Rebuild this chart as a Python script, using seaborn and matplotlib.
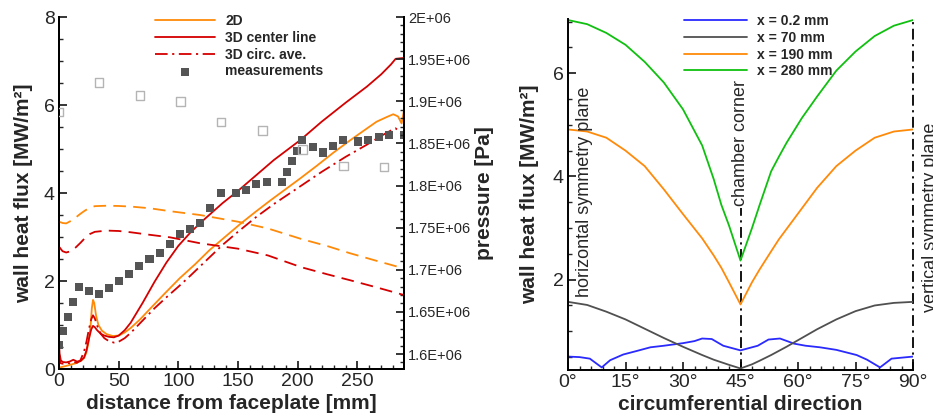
import matplotlib
matplotlib.use("Agg")
import matplotlib.pyplot as plt
from matplotlib.ticker import MultipleLocator, FuncFormatter
import seaborn as sns

# ---------------- axial profiles (left panel) ----------------
dist_2d = [0, 3, 6, 10, 14, 18, 21, 23, 25, 26.5, 27.5, 28.5, 29.5, 31, 33, 36, 40, 45, 50, 55,
           60, 68, 76, 88, 101, 114, 126, 139, 152, 165, 177, 188, 202, 216, 230, 244, 256, 266,
           274, 280, 284, 287, 289]
q_2d = [0.03, 0.05, 0.07, 0.10, 0.13, 0.18, 0.25, 0.38, 0.65, 1.00, 1.38, 1.57, 1.50, 1.22, 1.00,
        0.87, 0.79, 0.75, 0.76, 0.83, 0.93, 1.13, 1.36, 1.70, 2.06, 2.38, 2.70, 3.00, 3.30, 3.58,
        3.83, 4.05, 4.33, 4.62, 4.92, 5.20, 5.43, 5.62, 5.72, 5.79, 5.74, 5.58, 5.88]

dist_3d = [0, 0.5, 1.5, 3, 6, 9, 12, 15, 18, 21, 23, 25, 27, 28.5, 30, 32, 35, 38, 42, 46,
           50, 55, 60, 70, 80, 90, 100, 110, 120, 137, 150, 165, 180, 202, 220, 240, 258, 270,
           278, 282, 289]
q_3d_center = [0.60, 0.35, 0.20, 0.16, 0.15, 0.17, 0.21, 0.17, 0.18, 0.26, 0.42, 0.68, 0.90, 0.98,
               0.95, 0.88, 0.80, 0.76, 0.73, 0.72, 0.76, 0.88, 1.05, 1.50, 1.98, 2.42, 2.80, 3.10,
               3.36, 3.77, 4.05, 4.40, 4.75, 5.20, 5.62, 6.05, 6.42, 6.70, 6.92, 7.05, 7.07]
q_3d_ave = [0.35, 0.22, 0.13, 0.12, 0.14, 0.13, 0.16, 0.14, 0.20, 0.40, 0.62, 0.90, 1.13, 1.22,
            1.15, 0.98, 0.80, 0.70, 0.63, 0.60, 0.62, 0.70, 0.82, 1.10, 1.38, 1.63, 1.87, 2.12,
            2.38, 2.82, 3.12, 3.45, 3.75, 4.15, 4.48, 4.82, 5.10, 5.30, 5.42, 5.47, 5.30]

dist_p = [0, 3, 6, 10, 14, 18, 22, 26, 30, 40, 50, 60, 76, 93, 118, 150, 175, 203, 225, 244, 265, 289]
p_2d = [1.7570e6, 1.7555e6, 1.7550e6, 1.7580e6, 1.7620e6, 1.7665e6, 1.7705e6, 1.7735e6, 1.7755e6,
        1.7760e6, 1.7757e6, 1.7750e6, 1.7730e6, 1.7695e6, 1.7650e6, 1.7570e6, 1.7490e6, 1.7365e6,
        1.7280e6, 1.7195e6, 1.7110e6, 1.7015e6]
p_3d = [1.7274e6, 1.7220e6, 1.7205e6, 1.7220e6, 1.7265e6, 1.7320e6, 1.7380e6, 1.7425e6, 1.7450e6,
        1.7465e6, 1.7460e6, 1.7445e6, 1.7415e6, 1.7385e6, 1.7315e6, 1.7250e6, 1.7170e6, 1.7030e6,
        1.6945e6, 1.6875e6, 1.6795e6, 1.6700e6]

dist_qm = [0, 3.6, 7.8, 12, 16.6, 24.9, 33.5, 41.9, 50.3, 58.9, 67.3, 75.8, 84.6, 93, 101.6, 110,
           118.3, 126.8, 135.4, 148.2, 156.6, 165.2, 173.9, 186.8, 191, 195.4, 199.6, 203.8, 212.5,
           220.9, 229.5, 237.9, 250.7, 259, 267.7, 276.1, 289]
q_meas = [0.55, 0.86, 1.19, 1.53, 1.87, 1.78, 1.70, 1.84, 2.00, 2.16, 2.34, 2.49, 2.63, 2.85, 3.06,
          3.18, 3.31, 3.65, 4.00, 3.99, 4.06, 4.20, 4.26, 4.24, 4.48, 4.72, 4.95, 5.20, 5.05, 4.92,
          5.06, 5.20, 5.17, 5.20, 5.28, 5.32, 5.32]

dist_pm = [0, 33.5, 68, 101.6, 135.7, 170.3, 203.8, 238.4, 272.2]
p_meas = [1.887e6, 1.922e6, 1.907e6, 1.900e6, 1.8755e6, 1.865e6, 1.843e6, 1.823e6, 1.822e6]

# ---------------- circumferential profiles (right panel) ----------------
angle = [0, 5, 10, 15, 20, 25, 30, 35, 38, 40, 42, 45, 48, 50, 53, 55, 57, 61, 65, 70, 75, 80, 85, 90]
q_x280 = [7.03, 6.95, 6.78, 6.55, 6.22, 5.82, 5.30, 4.60, 3.95, 3.45, 3.05, 2.37, 3.00, 3.45, 4.10,
          4.38, 4.65, 5.13, 5.55, 6.05, 6.42, 6.72, 6.92, 7.03]
q_x190 = [4.91, 4.87, 4.75, 4.50, 4.20, 3.75, 3.27, 2.80, 2.47, 2.23, 1.95, 1.52, 1.95, 2.20, 2.55,
          2.78, 2.98, 3.38, 3.78, 4.20, 4.50, 4.75, 4.87, 4.91]
q_x70 = [1.57, 1.51, 1.38, 1.23, 1.05, 0.87, 0.70, 0.54, 0.45, 0.40, 0.35, 0.28, 0.36, 0.43, 0.54,
         0.62, 0.70, 0.87, 1.04, 1.23, 1.39, 1.50, 1.55, 1.57]
angle_x02 = [0, 3, 5.7, 8.8, 11, 14.4, 18, 21.5, 25, 30, 33, 35, 37.5, 40.5, 45, 49.5, 52.3, 55.3,
             59, 62, 65.7, 70, 75.3, 78, 81.4, 84.4, 90]
q_x02 = [0.51, 0.50, 0.47, 0.30, 0.44, 0.55, 0.62, 0.69, 0.72, 0.77, 0.81, 0.86, 0.85, 0.72, 0.63,
         0.72, 0.84, 0.86, 0.76, 0.72, 0.69, 0.64, 0.54, 0.45, 0.30, 0.47, 0.51]

angle_ticks = [0, 15, 30, 45, 60, 75, 90]
angle_labels = ["0°", "15°", "30°", "45°", "60°", "75°", "90°"]

# ---------------- style ----------------
sns.set_style("ticks")
plt.rcParams["font.family"] = ["Liberation Sans", "DejaVu Sans"]
plt.rcParams["axes.linewidth"] = 1.4
plt.rcParams["axes.edgecolor"] = "black"

ORANGE = "#ff8a0a"
RED = "#d40000"
SQ = "#555555"
OPEN = "#b4b4b4"
LBL = dict(fontsize=15, fontweight="bold")
TICK_FS = 14

W, H = 933, 415
fig = plt.figure(figsize=(W / 100, H / 100), dpi=100)
ax1 = fig.add_axes([59 / W, 46 / H, 345 / W, 352 / H])
ax2 = ax1.twinx()
ax3 = fig.add_axes([568 / W, 45 / H, 345 / W, 351 / H])


def style_ticks(ax, which_axis="both"):
    ax.tick_params(axis=which_axis, which="major", direction="in", length=6, width=1.3,
                   labelsize=TICK_FS, pad=3)
    ax.tick_params(axis=which_axis, which="minor", direction="in", length=3, width=1.0)


# ---- left panel: heat flux ----
sns.lineplot(x=dist_2d, y=q_2d, ax=ax1, color=ORANGE, lw=1.3, sort=False, estimator=None)
sns.lineplot(x=dist_3d, y=q_3d_center, ax=ax1, color=RED, lw=1.3, sort=False, estimator=None)
sns.lineplot(x=dist_3d, y=q_3d_ave, ax=ax1, color=RED, lw=1.3, sort=False, estimator=None,
             linestyle=(0, (7, 2.5, 1.2, 2.5)))
sns.scatterplot(x=dist_qm, y=q_meas, ax=ax1, marker="s", s=34, color=SQ, edgecolor="none",
                zorder=4)

ax1.set_xlim(0, 289)
ax1.set_ylim(0, 8)
ax1.xaxis.set_major_locator(MultipleLocator(50))
ax1.xaxis.set_minor_locator(MultipleLocator(10))
ax1.yaxis.set_major_locator(MultipleLocator(2))
ax1.yaxis.set_minor_locator(MultipleLocator(0.5))
style_ticks(ax1)
ax1.spines["top"].set_visible(False)
ax1.set_xlabel("distance from faceplate [mm]", **LBL)
ax1.set_ylabel("wall heat flux [MW/m²]", **LBL)
ax1.xaxis.label.set_va("center")
ax1.xaxis.set_label_coords(0.5, (369 - 403) / 352)
ax1.yaxis.label.set_va("center")
ax1.yaxis.set_label_coords((24 - 59) / 345, 0.5)

# ---- left panel: pressure on the twin axis ----
sns.lineplot(x=dist_p, y=p_2d, ax=ax2, color=ORANGE, lw=1.3, sort=False, estimator=None,
             linestyle=(0, (7, 4)))
sns.lineplot(x=dist_p, y=p_3d, ax=ax2, color=RED, lw=1.3, sort=False, estimator=None,
             linestyle=(0, (7, 4)))
sns.scatterplot(x=dist_pm, y=p_meas, ax=ax2, marker="s", s=38, facecolor="none",
                edgecolor=OPEN, linewidth=1.0, color=OPEN, zorder=4)
ax2.set_ylim(1.5822e6, 2.0e6)
ax2.yaxis.set_major_locator(MultipleLocator(0.05e6))
ax2.yaxis.set_minor_locator(MultipleLocator(0.01e6))
ax2.yaxis.set_major_formatter(FuncFormatter(lambda v, p: f"{v / 1e6:.3g}E+06"))
ax2.tick_params(axis="y", which="major", direction="in", length=6, width=1.3, labelsize=10.5, pad=3)
ax2.tick_params(axis="y", which="minor", direction="in", length=3, width=1.0)
ax2.spines["top"].set_visible(False)
ax2.set_ylabel("pressure [Pa]", rotation=90, **LBL)
ax2.yaxis.label.set_va("center")
ax2.yaxis.set_label_coords((484 - 59) / 345, 0.5)

handles = [ax1.lines[0], ax1.lines[1], ax1.lines[2], ax1.collections[0]]
labels = ["2D", "3D center line", "3D circ. ave.", "measurements"]
ax1.legend(handles, labels, loc="upper left", bbox_to_anchor=(155 / W, 1 - 14 / H),
           bbox_transform=fig.transFigure, frameon=False, borderaxespad=0, borderpad=0,
           handlelength=4.3, handletextpad=0.75, labelspacing=0.2,
           prop=dict(size=10, weight="bold"), scatterpoints=1)

# ---- right panel: circumferential distribution ----
sns.lineplot(x=angle_x02, y=q_x02, ax=ax3, color="#2a2aff", lw=1.3, sort=False, estimator=None,
             label="x = 0.2 mm")
sns.lineplot(x=angle, y=q_x70, ax=ax3, color="#505050", lw=1.3, sort=False, estimator=None,
             label="x = 70 mm")
sns.lineplot(x=angle, y=q_x190, ax=ax3, color=ORANGE, lw=1.3, sort=False, estimator=None,
             label="x = 190 mm")
sns.lineplot(x=angle, y=q_x280, ax=ax3, color="#10c010", lw=1.3, sort=False, estimator=None,
             label="x = 280 mm")

ax3.set_xlim(0, 90)
ax3.set_ylim(0.25, 7.05)
ax3.set_xticks(angle_ticks)
ax3.set_xticklabels(angle_labels)
ax3.xaxis.set_minor_locator(MultipleLocator(3))
ax3.yaxis.set_major_locator(MultipleLocator(2))
ax3.yaxis.set_minor_locator(MultipleLocator(0.5))
style_ticks(ax3)
ax3.spines["top"].set_visible(False)
ax3.spines["right"].set_visible(False)
dashdot = (0, (6, 2.5, 1.2, 2.5))
ax3.plot([90, 90], [0.25, 7.05], color="black", lw=1.3, linestyle=dashdot, zorder=1,
         clip_on=False)
ax3.plot([45, 45], [0.25, 3.38], color="black", lw=1.3, linestyle=dashdot, zorder=1)
ax3.set_xlabel("circumferential direction", **LBL)
ax3.set_ylabel("wall heat flux [MW/m²]", **LBL)
ax3.xaxis.label.set_va("center")
ax3.xaxis.set_label_coords(0.5, (370 - 404) / 351)
ax3.yaxis.label.set_va("center")
ax3.yaxis.set_label_coords((530 - 568) / 345, 0.5)

ax3.text(4.2, 1.67, "horizontal symmetry plane", rotation=90, ha="center", va="bottom",
         fontsize=13)
ax3.text(45, 3.42, "chamber corner", rotation=90, ha="center", va="bottom", fontsize=13)
ax3.text(94.5, 1.38, "vertical symmetry plane", rotation=90, ha="center", va="bottom",
         fontsize=13, clip_on=False)

ax3.legend(loc="upper left", bbox_to_anchor=(684 / W, 1 - 14 / H), bbox_transform=fig.transFigure,
           frameon=False, borderaxespad=0, borderpad=0, handlelength=4.5, handletextpad=0.75,
           labelspacing=0.2, prop=dict(size=10, weight="bold"))

fig.savefig("out.png", dpi=100)
